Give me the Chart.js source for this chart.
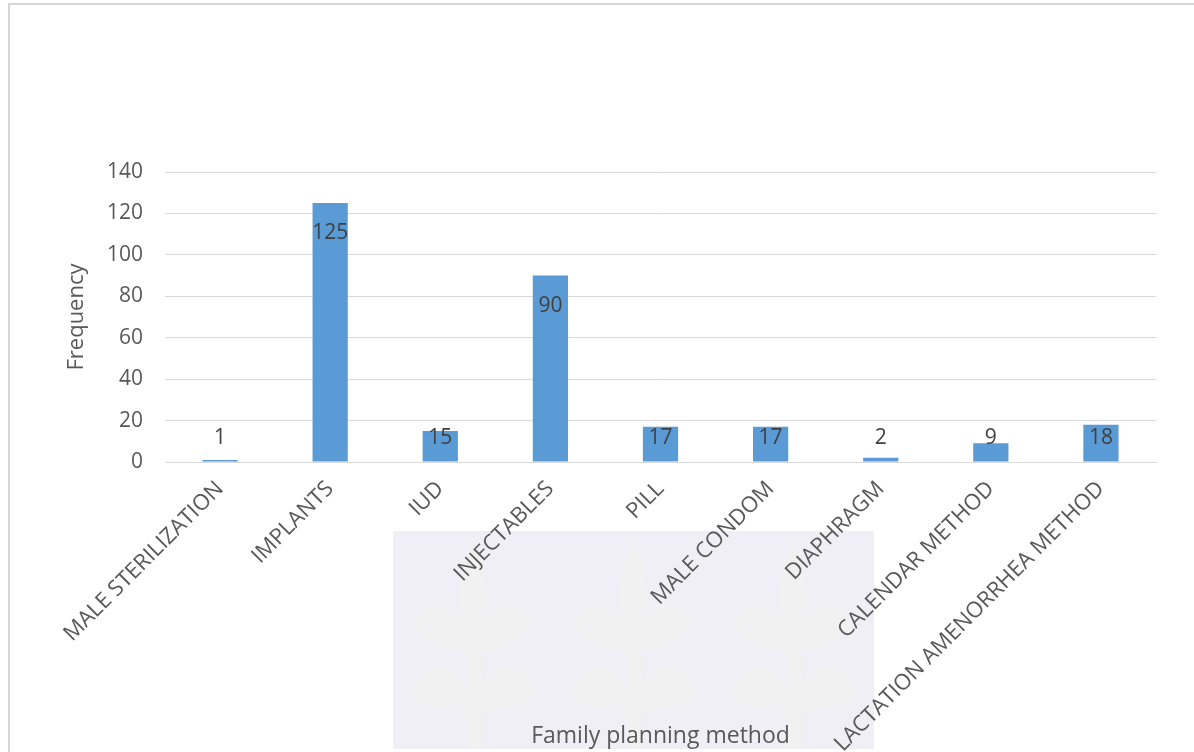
<!DOCTYPE html>
<html>
<head>
<meta charset="utf-8">
<script src="https://cdn.jsdelivr.net/npm/chart.js@4"></script>
<style>
  html, body { margin: 0; padding: 0; background: #fff; }
  #frame { position: absolute; left: 8px; top: 3px; width: 1200px; height: 760px;
           border-left: 2px solid #d6d6d6; border-top: 2px solid #d6d6d6; }
  #mark { position: absolute; left: 393px; top: 531px; width: 481px; height: 218px; background: #efeff5; }
  #wrap { position: absolute; left: 0; top: 0; width: 1194px; height: 752px; }
</style>
</head>
<body>
<div id="frame"></div>
<div id="mark">
  <svg width="481" height="218" viewBox="0 0 481 218">
    <g fill="#f3f2f1" opacity="0.8">
      <path d="M80 10 C60 50 60 90 80 120 C100 90 100 50 80 10 Z"/>
      <path d="M20 90 C40 60 70 70 80 120 C50 120 30 110 20 90 Z"/>
      <path d="M140 90 C120 60 90 70 80 120 C110 120 130 110 140 90 Z"/>
      <path d="M15 160 C40 120 70 130 80 180 C50 180 25 175 15 160 Z"/>
      <path d="M145 160 C120 120 90 130 80 180 C110 180 135 175 145 160 Z"/>
      <rect x="72" y="120" width="16" height="98"/>
      <path d="M240 10 C220 50 220 90 240 120 C260 90 260 50 240 10 Z"/>
      <path d="M180 90 C200 60 230 70 240 120 C210 120 190 110 180 90 Z"/>
      <path d="M300 90 C280 60 250 70 240 120 C270 120 290 110 300 90 Z"/>
      <path d="M175 160 C200 120 230 130 240 180 C210 180 185 175 175 160 Z"/>
      <path d="M305 160 C280 120 250 130 240 180 C270 180 295 175 305 160 Z"/>
      <rect x="232" y="120" width="16" height="98"/>
      <path d="M400 10 C380 50 380 90 400 120 C420 90 420 50 400 10 Z"/>
      <path d="M340 90 C360 60 390 70 400 120 C370 120 350 110 340 90 Z"/>
      <path d="M460 90 C440 60 410 70 400 120 C430 120 450 110 460 90 Z"/>
      <path d="M335 160 C360 120 390 130 400 180 C370 180 345 175 335 160 Z"/>
      <path d="M465 160 C440 120 410 130 400 180 C430 180 455 175 465 160 Z"/>
      <rect x="392" y="120" width="16" height="98"/>
    </g>
  </svg>
</div>
<div id="wrap"><canvas id="myChart"></canvas></div>
<script>
// Family planning methods and how often each was used
const methods = ['MALE STERILIZATION', 'IMPLANTS', 'IUD', 'INJECTABLES', 'PILL',
                 'MALE CONDOM', 'DIAPHRAGM', 'CALENDAR METHOD', 'LACTATION AMENORRHEA METHOD'];
const frequency = [1, 125, 15, 90, 17, 17, 2, 9, 18];
const yTicks = [0, 20, 40, 60, 80, 100, 120, 140];

const FONT = "'Open Sans', sans-serif";
const GREY = '#595959';

// value labels at the top of each bar (inside end, pushed up for short bars)
const barLabels = {
    id: 'barLabels',
    afterDatasetsDraw(chart) {
        const ctx = chart.ctx;
        const meta = chart.getDatasetMeta(0);
        const base = chart.scales.y.getPixelForValue(0);
        ctx.save();
        ctx.font = '21px ' + FONT;
        ctx.fillStyle = '#404040';
        ctx.textAlign = 'center';
        ctx.textBaseline = 'middle';
        meta.data.forEach((bar, i) => {
            const y = Math.min(bar.y + 30, base - 24);
            ctx.fillText(String(frequency[i]), bar.x, y);
        });
        ctx.restore();
    }
};

// x-axis title sits among the rotated labels, so draw it by hand
const xTitle = {
    id: 'xTitle',
    afterDraw(chart) {
        const ctx = chart.ctx;
        const area = chart.chartArea;
        ctx.save();
        ctx.font = '23px ' + FONT;
        ctx.fillStyle = GREY;
        ctx.textAlign = 'center';
        ctx.textBaseline = 'middle';
        ctx.fillText('Family planning method', (area.left + area.right) / 2, 736);
        ctx.restore();
    }
};

const ctx = document.getElementById('myChart');
new Chart(ctx, {
    type: 'bar',
    data: {
        labels: methods,
        datasets: [{
            label: 'Frequency',
            data: frequency,
            backgroundColor: '#5b9bd5',
            barPercentage: 0.32,
            categoryPercentage: 1
        }]
    },
    options: {
        responsive: true,
        maintainAspectRatio: false,
        animation: false,
        layout: { padding: { left: 64, top: 172, right: 38, bottom: 0 } },
        scales: {
            x: {
                grid: { display: false, drawTicks: false },
                border: { color: '#d9d9d9' },
                ticks: {
                    color: GREY,
                    font: { family: FONT, size: 22 },
                    minRotation: 45,
                    maxRotation: 45,
                    autoSkip: false,
                    padding: 14
                },
                afterFit(scale) { scale.height = 752 - 462; }
            },
            y: {
                min: 0,
                max: 140,
                afterBuildTicks(scale) { scale.ticks = yTicks.map(v => ({ value: v })); },
                grid: { color: '#d9d9d9', drawTicks: false },
                border: { display: false },
                ticks: {
                    color: GREY,
                    font: { family: FONT, size: 21 },
                    padding: 22
                },
                title: {
                    display: true,
                    text: 'Frequency',
                    color: GREY,
                    font: { family: FONT, size: 22 },
                    padding: 0
                },
                afterFit(scale) { scale.width = 165 - 64; }
            }
        },
        plugins: {
            legend: { display: false },
            tooltip: { enabled: false }
        }
    },
    plugins: [barLabels, xTitle]
});
</script>
</body>
</html>
